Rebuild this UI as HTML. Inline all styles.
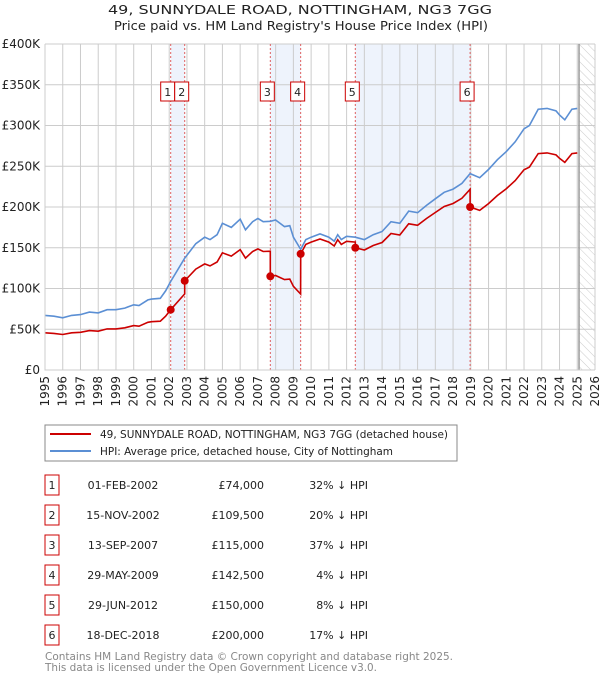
<!DOCTYPE html>
<html><head><meta charset="utf-8"><style>
body{margin:0;background:#fff;font-family:"DejaVu Sans","Liberation Sans",sans-serif;}
svg{display:block}
</style></head><body>
<svg id="c" width="600" height="680" xmlns="http://www.w3.org/2000/svg" font-family="DejaVu Sans, Liberation Sans, sans-serif">
<defs><pattern id="hatch" width="6" height="6" patternUnits="userSpaceOnUse" patternTransform="rotate(-45)"><line x1="0" y1="0" x2="0" y2="6" stroke="#ccc" stroke-width="1"/></pattern></defs>
<text x="108" y="14" font-size="12" fill="#222" textLength="384" lengthAdjust="spacingAndGlyphs">49, SUNNYDALE ROAD, NOTTINGHAM, NG3 7GG</text>
<text x="114" y="30" font-size="12" fill="#222" textLength="374" lengthAdjust="spacingAndGlyphs">Price paid vs. HM Land Registry's House Price Index (HPI)</text>
<g id="plot"></g>
<rect x="45" y="425" width="412" height="36" fill="#fff" stroke="#888"/>
<line x1="50" y1="434" x2="91" y2="434" stroke="#cc0000" stroke-width="2"/>
<text x="100" y="438" font-size="11" fill="#222" textLength="348" lengthAdjust="spacingAndGlyphs">49, SUNNYDALE ROAD, NOTTINGHAM, NG3 7GG (detached house)</text>
<line x1="50" y1="451" x2="91" y2="451" stroke="#5b8fd4" stroke-width="2"/>
<text x="100" y="455" font-size="11" fill="#222" textLength="293" lengthAdjust="spacingAndGlyphs">HPI: Average price, detached house, City of Nottingham</text>
<g id="table"></g>
<text x="45" y="660" font-size="11" fill="#888" textLength="408" lengthAdjust="spacingAndGlyphs">Contains HM Land Registry data © Crown copyright and database right 2025.</text>
<text x="45" y="671" font-size="11" fill="#888" textLength="332" lengthAdjust="spacingAndGlyphs">This data is licensed under the Open Government Licence v3.0.</text>
</svg>
<script>
const hpiT=[1995.0,1995.5,1996.0,1996.5,1997.0,1997.5,1998.0,1998.5,1999.0,1999.5,2000.0,2000.3,2000.8,2001.0,2001.5,2001.8,2002.08,2002.87,2003.5,2004.0,2004.3,2004.7,2005.0,2005.5,2006.0,2006.3,2006.7,2007.0,2007.3,2007.7,2008.0,2008.5,2008.8,2009.0,2009.41,2009.7,2010.0,2010.5,2011.0,2011.3,2011.5,2011.7,2012.0,2012.49,2013.0,2013.5,2014.0,2014.5,2015.0,2015.5,2016.0,2016.5,2017.0,2017.5,2018.0,2018.5,2018.96,2019.5,2020.0,2020.5,2021.0,2021.5,2022.0,2022.3,2022.8,2023.3,2023.8,2024.0,2024.3,2024.7,2025.0];
const hpiV=[67,66,64,67,68,71,70,74,74,76,80,79,86,87,88,97,108.5,137,155,163,160,166,180,175,185,172,182,186,182,182.5,184,176,177,163,148,160,163,167,163,158,166,160,164,163,160,166,170,182,180,195,193,202,210,218,222,229,241,236,246,258,268,280,296,300,320,321,318,313,307,320,321];
const saleLabels=["1","2","3","4","5","6"];
const saleT=[2002.085,2002.874,2007.70,2009.41,2012.49,2018.96];
const saleV=[74000,109500,115000,142500,150000,200000];
const saleDates=["01-FEB-2002","15-NOV-2002","13-SEP-2007","29-MAY-2009","29-JUN-2012","18-DEC-2018"];
const salePrices=["£74,000","£109,500","£115,000","£142,500","£150,000","£200,000"];
const saleHpi=["32% ↓ HPI","20% ↓ HPI","37% ↓ HPI","4% ↓ HPI","8% ↓ HPI","17% ↓ HPI"];
const yTicks=[0,50,100,150,200,250,300,350,400];
const yTickLabels=["£0","£50K","£100K","£150K","£200K","£250K","£300K","£350K","£400K"];
const xYears=[1995,1996,1997,1998,1999,2000,2001,2002,2003,2004,2005,2006,2007,2008,2009,2010,2011,2012,2013,2014,2015,2016,2017,2018,2019,2020,2021,2022,2023,2024,2025,2026];

const NS="http://www.w3.org/2000/svg";
const X0=45,X1=595,Y0=370,Y1=44;
const xs=t=>X0+(t-1995)/(2026-1995)*(X1-X0);
const ys=v=>Y0-v/400*(Y0-Y1);
const plot=document.getElementById('plot');
function mk(tag,at,parent){const e=document.createElementNS(NS,tag);for(const k in at)e.setAttribute(k,at[k]);(parent||plot).appendChild(e);return e;}
function hpiAt(t){for(let i=0;i<hpiT.length-1;i++){if(t>=hpiT[i]&&t<=hpiT[i+1]){const f=(t-hpiT[i])/(hpiT[i+1]-hpiT[i]);return hpiV[i]+f*(hpiV[i+1]-hpiV[i]);}}return hpiV[hpiV.length-1];}

for(let i=0;i<saleT.length;i+=2){
  const r=mk('rect',{x:xs(saleT[i]),y:Y1,width:xs(saleT[i+1])-xs(saleT[i]),height:Y0-Y1,fill:'#eef3fc'});
  
  
}
const hz=mk('rect',{x:xs(2025.1),y:Y1,width:X1-xs(2025.1),height:Y0-Y1,fill:'url(#hatch)'});


yTicks.forEach((v,i)=>{
  const l=mk('line',{x1:X0,x2:X1,y1:ys(v),y2:ys(v),stroke:'#ccc','stroke-width':1});
  
  
  const t=mk('text',{x:X0-5,y:ys(v)+4,'text-anchor':'end','font-size':12,fill:'#222'});
  t.textContent=yTickLabels[i];
  
  
});
xYears.forEach(y=>{
  const l=mk('line',{x1:xs(y),x2:xs(y),y1:Y1,y2:Y0,stroke:'#ccc','stroke-width':1});
  
  
  const t=mk('text',{x:0,y:0,'text-anchor':'end','font-size':12,fill:'#222',transform:`translate(${xs(y)+4},${Y0+6}) rotate(-90)`});
  t.textContent=y;
  
  
});
const nl=mk('line',{x1:xs(2025.1),x2:xs(2025.1),y1:Y1,y2:Y0,stroke:'#999','stroke-width':1.5});


saleT.forEach(t=>{
  const l=mk('line',{x1:xs(t),x2:xs(t),y1:Y1,y2:Y0,stroke:'#e06060','stroke-width':1,'stroke-dasharray':'2,2'});
  
  
});
let d='';hpiT.forEach((t,i)=>{d+=(i?'L':'M')+xs(t).toFixed(1)+','+ys(hpiV[i]).toFixed(1);});
const hp=mk('path',{d:d,fill:'none',stroke:'#5b8fd4','stroke-width':1.6});


let rd='';
const pts=[];
hpiT.forEach(t=>pts.push(t));saleT.forEach(t=>{pts.push(t-0.001);pts.push(t);});
pts.sort((a,b)=>a-b);
pts.forEach((t,i)=>{
  let k=0;for(let j=0;j<saleT.length;j++)if(t>=saleT[j])k=j;
  const ratio=saleV[k]/1000/hpiAt(saleT[k]);
  const v=hpiAt(t)*ratio;
  rd+=(i?'L':'M')+xs(t).toFixed(1)+','+ys(v).toFixed(1);
});
const rp=mk('path',{d:rd,fill:'none',stroke:'#cc0000','stroke-width':1.6});


saleT.forEach((t,i)=>{
  const c=mk('circle',{cx:xs(t),cy:ys(saleV[i]/1000),r:4,fill:'#cc0000'});
  
  
  const bx=xs(t)-3-7;
  const r=mk('rect',{x:bx,y:82,width:14,height:19,fill:'#fff',stroke:'#cc0000'});
  
  
  const tx=mk('text',{x:bx+7,y:96,'text-anchor':'middle','font-size':11,fill:'#222'});
  tx.textContent=saleLabels[i];
  
  
});
const ax=mk('path',{d:`M${X0},${Y1}V${Y0}H${X1}`,fill:'none',stroke:'#ccc'});


const tb=document.getElementById('table');
saleLabels.forEach((s,i)=>{
  const y=485+i*30;
  const r=mk('rect',{x:45,y:y-10,width:14,height:20,fill:'#fff',stroke:'#cc0000'},tb);
  
  
  const a=mk('text',{x:52,y:y+4,'text-anchor':'middle','font-size':11,fill:'#222'},tb);
  a.textContent=s;
  
  
  const b=mk('text',{x:123,y:y+4,'text-anchor':'middle','font-size':11,fill:'#222'},tb);
  b.textContent=saleDates[i];
  
  
  const c=mk('text',{x:264,y:y+4,'text-anchor':'end','font-size':11,fill:'#222'},tb);
  c.textContent=salePrices[i];
  
  
  const e=mk('text',{x:368,y:y+4,'text-anchor':'end','font-size':11,fill:'#222'},tb);
  e.textContent=saleHpi[i];
  
  
});
</script>
</body></html>
